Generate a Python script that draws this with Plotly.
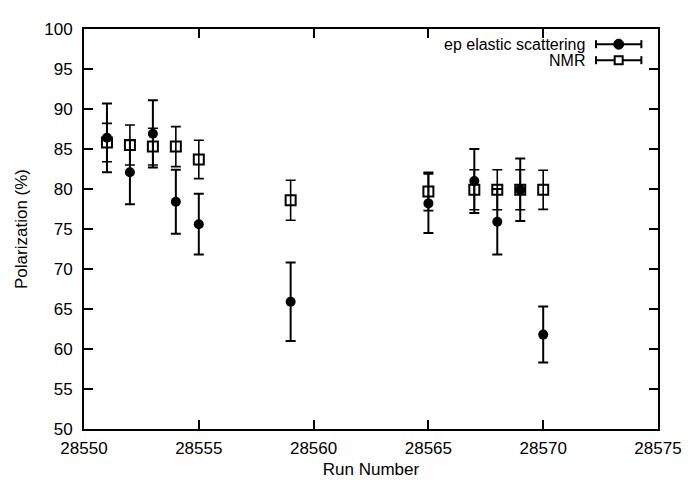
import plotly.graph_objects as go

runs = [28551, 28552, 28553, 28554, 28555, 28559, 28565, 28567, 28568, 28569, 28570]
ep_pol = [86.4, 82.1, 86.9, 78.4, 75.6, 65.9, 78.2, 81.0, 75.9, 79.9, 61.8]
ep_err = [4.3, 4.0, 4.2, 4.0, 3.8, 4.9, 3.7, 4.0, 4.1, 3.9, 3.5]
nmr_pol = [85.8, 85.5, 85.3, 85.3, 83.7, 78.6, 79.7, 79.9, 79.9, 79.9, 79.9]
nmr_err = [2.4, 2.5, 2.3, 2.5, 2.4, 2.5, 2.4, 2.5, 2.5, 2.5, 2.45]

x_ticks = [28550, 28555, 28560, 28565, 28570, 28575]
y_ticks = [50, 55, 60, 65, 70, 75, 80, 85, 90, 95, 100]
legend_labels = ["ep elastic scattering", "NMR"]

FONT = "Liberation Sans, Arial, sans-serif"
FS = 17

fig = go.Figure()
fig.add_trace(go.Scatter(
    x=runs, y=ep_pol, mode="markers", name=legend_labels[0],
    marker=dict(symbol="circle", size=10, color="black"),
    error_y=dict(type="data", array=ep_err, visible=True, color="black",
                 thickness=2, width=5),
    showlegend=False,
))
fig.add_trace(go.Scatter(
    x=runs, y=nmr_pol, mode="markers", name=legend_labels[1],
    marker=dict(symbol="square-open", size=10, color="black",
                line=dict(width=2, color="black")),
    error_y=dict(type="data", array=nmr_err, visible=True, color="black",
                 thickness=1.6, width=5),
    showlegend=False,
))

# gnuplot-style key (text left of sample)
rows_y = [0.962, 0.922]
text_x = 0.874
s0, s1 = 0.892, 0.971
smid = (s0 + s1) / 2
shapes = []
annotations = []
for i, lab in enumerate(legend_labels):
    yy = rows_y[i]
    annotations.append(dict(x=text_x, y=yy, xref="paper", yref="paper",
                            text=lab, showarrow=False, xanchor="right",
                            yanchor="middle", borderpad=0,
                            font=dict(family=FONT, size=16, color="black")))
    shapes.append(dict(type="line", xref="paper", yref="paper",
                       x0=s0, x1=s1, y0=yy, y1=yy,
                       line=dict(color="black", width=2)))
    for xe in (s0, s1):
        shapes.append(dict(type="line", xref="paper", yref="paper",
                           xsizemode="pixel", ysizemode="pixel",
                           xanchor=xe, yanchor=yy,
                           x0=0, x1=0, y0=-4, y1=4,
                           line=dict(color="black", width=2)))
    if i == 0:
        shapes.append(dict(type="circle", xref="paper", yref="paper",
                           xsizemode="pixel", ysizemode="pixel",
                           xanchor=smid, yanchor=yy,
                           x0=-5, x1=5, y0=-5, y1=5,
                           fillcolor="black", line=dict(color="black", width=1)))
    else:
        shapes.append(dict(type="rect", xref="paper", yref="paper",
                           xsizemode="pixel", ysizemode="pixel",
                           xanchor=smid, yanchor=yy,
                           x0=-4, x1=4, y0=-4, y1=4,
                           fillcolor="white", line=dict(color="black", width=2)))

axis_common = dict(
    showgrid=False, zeroline=False, showline=True, mirror="ticks",
    linecolor="black", linewidth=2, ticks="inside", ticklen=9,
    tickwidth=1.5, tickcolor="black",
    tickfont=dict(family=FONT, size=FS, color="black"),
)

fig.update_layout(
    width=686, height=480,
    margin=dict(l=66, r=29, t=14, b=51),
    plot_bgcolor="white", paper_bgcolor="white",
    font=dict(family=FONT, size=FS, color="black"),
    shapes=shapes, annotations=annotations,
    xaxis=dict(range=[28550, 28575], tickvals=x_ticks,
               ticktext=[str(v) for v in x_ticks],
               ticklabelstandoff=3, ticklabeloverflow="allow",
               title=dict(text="Run Number", font=dict(family=FONT, size=FS),
                          standoff=6),
               **axis_common),
    yaxis=dict(range=[50, 100], tickvals=y_ticks,
               ticktext=[str(v) for v in y_ticks],
               ticklabelstandoff=6,
               title=dict(text="Polarization (%)", font=dict(family=FONT, size=FS),
                          standoff=12),
               **axis_common),
)

fig.write_html("out.html")
